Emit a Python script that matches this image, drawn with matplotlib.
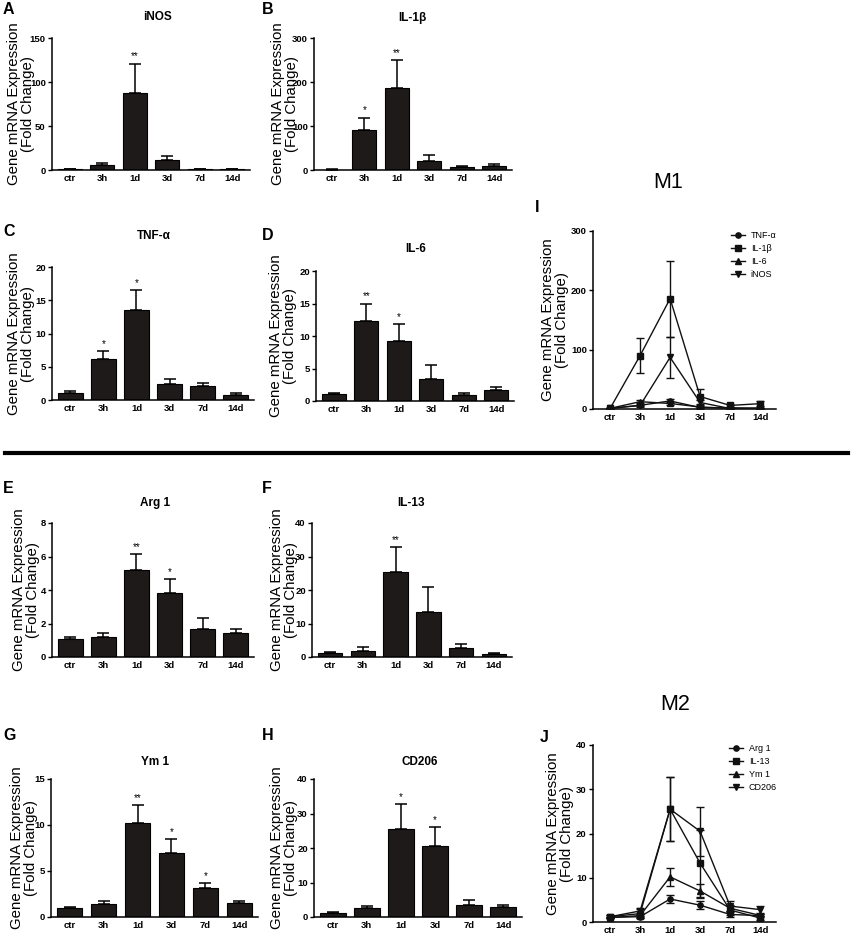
import matplotlib
matplotlib.use("Agg")
import matplotlib.pyplot as plt
from matplotlib.lines import Line2D
import numpy as np

# -----------------------------
# Data
# -----------------------------
times = ["ctr", "3h", "1d", "3d", "7d", "14d"]

inos_mean = [1.0, 6.0, 87.0, 11.0, 0.8, 0.8]
inos_err = [0.3, 2.5, 34.0, 5.0, 0.3, 0.3]
inos_stars = ["", "", "**", "", "", ""]

il1b_mean = [1.0, 90.0, 186.0, 21.0, 6.0, 9.0]
il1b_err = [0.5, 29.0, 64.0, 12.0, 2.0, 4.0]
il1b_stars = ["", "*", "**", "", "", ""]

tnf_mean = [1.1, 6.2, 13.6, 2.4, 2.1, 0.8]
tnf_err = [0.2, 1.2, 2.9, 0.8, 0.5, 0.2]
tnf_stars = ["", "*", "*", "", "", ""]

il6_mean = [1.1, 12.3, 9.3, 3.4, 1.0, 1.7]
il6_err = [0.2, 2.7, 2.5, 2.2, 0.2, 0.5]
il6_stars = ["", "**", "*", "", "", ""]

arg1_mean = [1.05, 1.2, 5.2, 3.8, 1.7, 1.45]
arg1_err = [0.15, 0.25, 0.95, 0.85, 0.65, 0.25]
arg1_stars = ["", "", "**", "*", "", ""]

il13_mean = [1.2, 1.9, 25.5, 13.3, 2.7, 0.9]
il13_err = [0.3, 1.0, 7.2, 7.6, 1.1, 0.4]
il13_stars = ["", "", "**", "", "", ""]

ym1_mean = [1.0, 1.45, 10.2, 7.0, 3.1, 1.5]
ym1_err = [0.1, 0.3, 2.0, 1.5, 0.6, 0.25]
ym1_stars = ["", "", "**", "*", "*", ""]

cd206_mean = [1.2, 2.5, 25.5, 20.5, 3.6, 2.8]
cd206_err = [0.3, 0.7, 7.2, 5.5, 1.2, 0.8]
cd206_stars = ["", "", "*", "*", "", ""]

# -----------------------------
# Layout helpers (pixel based)
# -----------------------------
W, H = 851, 936
FONT = "Liberation Sans"
BAR_COLOR = "#1e1a1a"
YLABEL = "Gene mRNA Expression\n(Fold Change)"

plt.rcParams["font.family"] = [FONT, "DejaVu Sans"]
plt.rcParams["axes.unicode_minus"] = False

fig = plt.figure(figsize=(W / 100, H / 100), dpi=100)


def px_axes(left, top, right, bottom):
    return fig.add_axes([left / W, 1 - bottom / H, (right - left) / W, (bottom - top) / H])


def px_text(x, y, s, **kw):
    fig.text(x / W, 1 - y / H, s, **kw)


def style_axes(ax, ymax, ystep, label_off, width_px):
    ax.spines["top"].set_visible(False)
    ax.spines["right"].set_visible(False)
    for side in ("left", "bottom"):
        ax.spines[side].set_linewidth(1.1)
    ax.set_ylim(0, ymax)
    ax.set_yticks(np.arange(0, ymax + 0.001, ystep))
    ax.set_xticks(range(len(times)))
    ax.set_xticklabels(times)
    ax.tick_params(axis="y", length=3, width=1.0, pad=1.5, labelsize=6.8)
    ax.tick_params(axis="x", length=0, pad=3, labelsize=6.8)
    for lab in ax.get_xticklabels() + ax.get_yticklabels():
        lab.set_fontweight("bold")
    ax.set_ylabel(YLABEL, fontsize=10.8, linespacing=1.0)
    ax.yaxis.set_label_coords(-label_off / width_px, 0.5)


def bar_panel(box, mean, err, stars, ymax, ystep, label_off=12):
    left, top, right, bottom = box
    ax = px_axes(left, top, right, bottom)
    x = np.arange(len(times))
    ax.bar(x, mean, width=0.75, color=BAR_COLOR, edgecolor="black", linewidth=0.8, zorder=2)
    ax.errorbar(x, mean, yerr=[np.zeros(len(mean)), err], fmt="none", ecolor="black",
                elinewidth=1.1, capsize=4.5, capthick=1.1, zorder=3)
    for xi, m, e, s in zip(x, mean, err, stars):
        if s:
            ax.annotate(s, (xi, m + e), xytext=(0, 3), textcoords="offset points",
                        ha="center", va="baseline", fontsize=7)
    ax.set_xlim(-0.55, 5.55)
    style_axes(ax, ymax, ystep, label_off, right - left)
    return ax


def line_panel(box, series, labels, ymax, ystep, label_off, legend_xy):
    left, top, right, bottom = box
    ax = px_axes(left, top, right, bottom)
    x = np.arange(len(times))
    markers = ["o", "s", "^", "v"]
    for (mean, err), lab, mk in zip(series, labels, markers):
        ax.errorbar(x, mean, yerr=err, color="#111111", marker=mk, markersize=3.8,
                    linewidth=1.0, elinewidth=1.0, capsize=3, capthick=1.0, label=lab, zorder=3)
    ax.set_xlim(-0.57, 5.53)
    style_axes(ax, ymax, ystep, label_off, right - left)
    handles = [Line2D([], [], color="#111111", marker=mk, markersize=3.8, linewidth=1.0)
               for mk in markers]
    lx, ly = legend_xy
    ax.legend(handles, labels, loc="upper left", bbox_to_anchor=(lx / W, 1 - ly / H),
              bbox_transform=fig.transFigure, frameon=False, fontsize=6.5,
              handlelength=1.6, handletextpad=0.6, labelspacing=0.45, borderpad=0,
              borderaxespad=0)
    return ax


# -----------------------------
# M1 panels
# -----------------------------
bar_panel((52, 38, 250, 170), inos_mean, inos_err, inos_stars, 150, 50, 17)
bar_panel((314, 38, 512, 170), il1b_mean, il1b_err, il1b_stars, 300, 100, 15)
bar_panel((52, 267, 254, 400), tnf_mean, tnf_err, tnf_stars, 20, 5, 17)
bar_panel((316, 271, 514, 401), il6_mean, il6_err, il6_stars, 20, 5, 19)

line_panel((593, 231, 776, 409),
           [(tnf_mean, tnf_err), (il1b_mean, il1b_err), (il6_mean, il6_err), (inos_mean, inos_err)],
           ["TNF-α", "IL-1β", "IL-6", "iNOS"], 300, 100, 24, (731, 231))

# -----------------------------
# M2 panels
# -----------------------------
bar_panel((52, 523, 254, 657), arg1_mean, arg1_err, arg1_stars, 8, 2, 12)
bar_panel((312, 523, 512, 657), il13_mean, il13_err, il13_stars, 40, 10, 14)
bar_panel((51, 779, 258, 917), ym1_mean, ym1_err, ym1_stars, 15, 5, 13)
bar_panel((314, 779, 522, 917), cd206_mean, cd206_err, cd206_stars, 40, 10, 16)

line_panel((593, 745, 776, 922),
           [(arg1_mean, arg1_err), (il13_mean, il13_err), (ym1_mean, ym1_err), (cd206_mean, cd206_err)],
           ["Arg 1", "IL-13", "Ym 1", "CD206"], 40, 10, 19, (729, 744))

# -----------------------------
# Titles, panel letters, separator
# -----------------------------
titles = [("iNOS", 157, 17), ("IL-1β", 412, 18), ("TNF-α", 154, 236), ("IL-6", 416, 249),
          ("Arg 1", 155, 503), ("IL-13", 411, 503), ("Ym 1", 155, 762), ("CD206", 420, 762)]
for s, x, y in titles:
    px_text(x, y, s, ha="center", va="center", fontsize=8.5, fontweight="bold")

letters = [("A", 3, 10), ("B", 262, 10), ("C", 3, 232), ("D", 262, 235), ("I", 535, 208),
           ("E", 3, 488), ("F", 262, 488), ("G", 3, 735), ("H", 262, 735), ("J", 540, 738)]
for s, x, y in letters:
    px_text(x, y, s, ha="left", va="center", fontsize=11.5, fontweight="bold")

px_text(668, 183, "M1", ha="center", va="center", fontsize=15.5)
px_text(675, 705, "M2", ha="center", va="center", fontsize=15.5)

fig.add_artist(Line2D([5 / W, 848 / W], [1 - 453 / H, 1 - 453 / H], color="black",
                      linewidth=3, transform=fig.transFigure))

fig.savefig("out.png", dpi=100, facecolor="white")
